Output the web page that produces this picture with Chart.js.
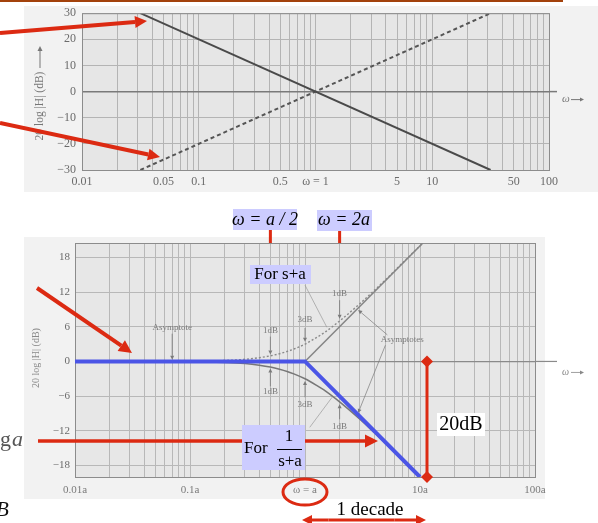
<!DOCTYPE html>
<html>
<head>
<meta charset="utf-8">
<script src="https://cdn.jsdelivr.net/npm/chart.js@4.4.1/dist/chart.umd.min.js"></script>
<style>
  body { margin: 0; background: #fff; width: 598px; height: 523px; overflow: hidden; position: relative; }
  canvas { position: absolute; left: 0; }
  #topChart { top: 0; }
  #bottomChart { top: 200px; }
</style>
</head>
<body>
<canvas id="topChart" width="598" height="200"></canvas>
<canvas id="bottomChart" width="598" height="323"></canvas>
<script>
// top plot: 20log|H| of 1/s (falling) and s (rising, dashed)
const topOmega = [0.0316, 31.6];
const topFalling = [30, -30];
const topRising = [-30, 30];
const topTickValues = [0.01, 0.05, 0.1, 0.5, 1, 5, 10, 50, 100];
const topTickLabels = ['0.01', '0.05', '0.1', '0.5', 'ω = 1', '5', '10', '50', '100'];
const topDbTicks = [-30, -20, -10, 0, 10, 20, 30];

// bottom plot: s+a and 1/(s+a), omega in units of a
const exactOmega = [0.01, 0.1, 0.2, 0.3, 0.4, 0.5, 0.6, 0.7, 0.8, 1, 1.25, 1.5, 2, 3, 4, 5, 7, 10.6];
const exactUpper = [0, 0.04, 0.17, 0.37, 0.65, 0.97, 1.34, 1.73, 2.15, 3.0, 4.1, 5.1, 7.0, 10.0, 12.3, 14.1, 17.0, 20.5];
const lowerOmega = [0.01, 0.1, 0.2, 0.3, 0.4, 0.5, 0.6, 0.7, 0.8, 1, 1.25, 1.5, 2, 3, 4, 5, 7, 10];
const exactLower = [0, -0.04, -0.17, -0.37, -0.65, -0.97, -1.34, -1.73, -2.15, -3.0, -4.1, -5.1, -7.0, -10.0, -12.3, -14.1, -17.0, -20.0];
const asymOmega = [1, 10.6];
const asymUpper = [0, 20.5];
const blueOmega = [0.01, 1, 10];
const blueDb = [0, 0, -20];
const bottomTickValues = [0.01, 0.1, 1, 10, 100];
const bottomTickLabels = ['0.01a', '0.1a', 'ω = a', '10a', '100a'];
const bottomDbTicks = [-18, -12, -6, 0, 6, 12, 18];

const RED = '#dc2a12';
const SERIF = "'Liberation Serif', 'DejaVu Serif', serif";

const pts = (xs, ys) => xs.map((x, i) => ({ x: x, y: ys[i] }));

function logGrid(lo, hi) {
    const out = [];
    for (let d = lo; d < hi * 0.99; d *= 10) {
        for (let m = 1; m < 10; m++) out.push(m * d);
    }
    out.push(hi);
    return out;
}

function labelFor(values, labels, v) {
    const i = values.findIndex(t => Math.abs(v - t) / t < 1e-6);
    return i >= 0 ? labels[i] : '';
}

function arrow(ctx, x1, y1, x2, y2, w, head, color) {
    const a = Math.atan2(y2 - y1, x2 - x1);
    const bx = x2 - head * Math.cos(a), by = y2 - head * Math.sin(a);
    const hw = head * 0.5;
    ctx.strokeStyle = color;
    ctx.fillStyle = color;
    ctx.lineWidth = w;
    ctx.beginPath();
    ctx.moveTo(x1, y1);
    ctx.lineTo(bx, by);
    ctx.stroke();
    ctx.beginPath();
    ctx.moveTo(x2, y2);
    ctx.lineTo(bx - hw * Math.sin(a), by + hw * Math.cos(a));
    ctx.lineTo(bx + hw * Math.sin(a), by - hw * Math.cos(a));
    ctx.closePath();
    ctx.fill();
}

function diamond(ctx, x, y, r) {
    ctx.beginPath();
    ctx.moveTo(x, y - r);
    ctx.lineTo(x + r, y);
    ctx.lineTo(x, y + r);
    ctx.lineTo(x - r, y);
    ctx.closePath();
    ctx.fill();
}

function box(ctx, x, y, w, h, fill) {
    ctx.fillStyle = fill;
    ctx.fillRect(x, y, w, h);
}

// ---------- top chart ----------
const topDecor = {
    id: 'topDecor',
    beforeDraw(chart) {
        const { ctx, chartArea: a } = chart;
        ctx.save();
        ctx.fillStyle = '#a3420c';
        ctx.fillRect(0, 0, 563, 2);
        ctx.fillStyle = '#f2f2f2';
        ctx.fillRect(24, 6, 574, 186);
        ctx.fillStyle = '#e6e6e6';
        ctx.fillRect(a.left, a.top, a.right - a.left, a.bottom - a.top);
        ctx.restore();
    },
    afterDraw(chart) {
        const { ctx, chartArea: a, scales } = chart;
        const y0 = scales.y.getPixelForValue(0);
        ctx.save();
        ctx.strokeStyle = '#8c8c8c';
        ctx.lineWidth = 1;
        ctx.strokeRect(a.left + 0.5, a.top + 0.5, a.right - a.left, a.bottom - a.top);
        ctx.strokeStyle = '#7a7a7a';
        ctx.lineWidth = 1.5;
        ctx.beginPath();
        ctx.moveTo(a.right, y0);
        ctx.lineTo(557, y0);
        ctx.stroke();
        ctx.fillStyle = '#777';
        ctx.font = 'italic 11px ' + SERIF;
        ctx.textBaseline = 'middle';
        ctx.fillText('ω', 562, y0 + 8);
        arrow(ctx, 571, y0 + 8, 584, y0 + 8, 1, 4, '#777');

        // y axis title
        ctx.save();
        ctx.translate(40, 106);
        ctx.rotate(-Math.PI / 2);
        ctx.fillStyle = '#777';
        ctx.font = '11.5px ' + SERIF;
        ctx.textAlign = 'center';
        ctx.textBaseline = 'middle';
        ctx.fillText('20 log |H| (dB)', 0, 0);
        ctx.restore();
        arrow(ctx, 40, 68, 40, 46, 1, 5, '#777');

        arrow(ctx, 0, 33, 147, 21, 4, 12, RED);
        arrow(ctx, 0, 123, 160, 157, 4, 12, RED);
        ctx.restore();
    }
};

new Chart(document.getElementById('topChart'), {
    type: 'line',
    data: {
        datasets: [{
            data: pts(topOmega, topFalling),
            borderColor: '#4a4a4a',
            borderWidth: 2,
            pointRadius: 0
        }, {
            data: pts(topOmega, topRising),
            borderColor: '#555',
            borderWidth: 2,
            borderDash: [4, 3],
            pointRadius: 0
        }]
    },
    options: {
        responsive: false,
        animation: false,
        devicePixelRatio: 1,
        layout: { padding: { top: 13, right: 49, left: 0, bottom: 0 } },
        plugins: { legend: { display: false }, tooltip: { enabled: false } },
        scales: {
            x: {
                type: 'logarithmic',
                min: 0.01,
                max: 100,
                afterBuildTicks: axis => { axis.ticks = logGrid(0.01, 100).map(v => ({ value: v })); },
                afterFit: axis => { axis.height = 30; },
                grid: { color: '#b4b4b4', lineWidth: 1, drawTicks: false },
                border: { display: false },
                ticks: {
                    autoSkip: false,
                    maxRotation: 0,
                    padding: 5,
                    color: '#6b6b6b',
                    font: { family: SERIF, size: 12 },
                    callback: v => labelFor(topTickValues, topTickLabels, v)
                }
            },
            y: {
                min: -30,
                max: 30,
                afterBuildTicks: axis => { axis.ticks = topDbTicks.map(v => ({ value: v })); },
                afterFit: axis => { axis.width = 82; },
                grid: {
                    color: c => c.tick && c.tick.value === 0 ? '#7a7a7a' : '#b4b4b4',
                    lineWidth: c => c.tick && c.tick.value === 0 ? 1.5 : 1,
                    drawTicks: false
                },
                border: { display: false },
                ticks: {
                    padding: 6,
                    color: '#6b6b6b',
                    font: { family: SERIF, size: 12 },
                    callback: v => v < 0 ? '\u2212' + Math.abs(v) : String(v)
                }
            }
        }
    },
    plugins: [topDecor]
});

// ---------- bottom chart ----------
const OY = 200; // canvas top on the page

const bottomDecor = {
    id: 'bottomDecor',
    beforeDraw(chart) {
        const { ctx, chartArea: a } = chart;
        ctx.save();
        ctx.fillStyle = '#f2f2f2';
        ctx.fillRect(24, 237 - OY, 521, 262);
        ctx.fillStyle = '#e7e7e7';
        ctx.fillRect(a.left, a.top, a.right - a.left, a.bottom - a.top);
        ctx.restore();
    },
    beforeDatasetsDraw(chart) {
        const { ctx, chartArea: a, scales } = chart;
        const X = w => scales.x.getPixelForValue(w);
        const Y = d => scales.y.getPixelForValue(d);
        ctx.save();
        ctx.strokeStyle = '#8c8c8c';
        ctx.lineWidth = 1;
        ctx.strokeRect(a.left + 0.5, a.top + 0.5, a.right - a.left, a.bottom - a.top);
        ctx.strokeStyle = '#8a8a8a';
        ctx.lineWidth = 1.2;
        ctx.beginPath();
        ctx.moveTo(a.right, Y(0));
        ctx.lineTo(557, Y(0));
        ctx.stroke();

        // small scan notes
        const grey = '#7a7a7a';
        ctx.fillStyle = grey;
        ctx.font = '9px ' + SERIF;
        ctx.textAlign = 'center';
        ctx.textBaseline = 'middle';
        const note = (t, w, d) => ctx.fillText(t, X(w), Y(d));
        note('Asymptote', 0.07, 5.8);
        arrow(ctx, X(0.07), Y(4.8), X(0.07), Y(0.3), 0.8, 4, grey);
        note('1dB', 0.5, 5.3);
        arrow(ctx, X(0.5), Y(4.3), X(0.5), Y(1.2), 0.8, 4, grey);
        note('3dB', 1, 7.3);
        arrow(ctx, X(1), Y(5.8), X(1), Y(3.4), 0.8, 4, grey);
        note('1dB', 2, 11.8);
        arrow(ctx, X(2), Y(10.6), X(2), Y(7.4), 0.8, 4, grey);
        note('1dB', 0.5, -5.3);
        arrow(ctx, X(0.5), Y(-4.3), X(0.5), Y(-1.2), 0.8, 4, grey);
        note('3dB', 1, -7.5);
        arrow(ctx, X(1), Y(-6.2), X(1), Y(-3.4), 0.8, 4, grey);
        note('1dB', 2, -11.2);
        arrow(ctx, X(2), Y(-10), X(2), Y(-7.4), 0.8, 4, grey);
        note('Asymptotes', 7, 3.7);
        arrow(ctx, X(5.2), Y(4.6), X(2.9), Y(8.9), 0.7, 4, grey);
        arrow(ctx, X(5.0), Y(2.8), X(2.9), Y(-8.9), 0.7, 4, grey);
        ctx.strokeStyle = '#999';
        ctx.lineWidth = 0.7;
        ctx.beginPath();
        ctx.moveTo(X(1), Y(13.2));
        ctx.lineTo(X(1.55), Y(5.9));
        ctx.moveTo(X(1.1), Y(-11.4));
        ctx.lineTo(X(1.72), Y(-6.2));
        ctx.stroke();

        // y axis title
        ctx.save();
        ctx.translate(36, 358 - OY);
        ctx.rotate(-Math.PI / 2);
        ctx.fillStyle = '#888';
        ctx.font = '10px ' + SERIF;
        ctx.textAlign = 'center';
        ctx.fillText('20 log |H| (dB)', 0, 0);
        ctx.restore();

        ctx.fillStyle = '#888';
        ctx.font = 'italic 10px ' + SERIF;
        ctx.textAlign = 'left';
        ctx.fillText('ω', 562, Y(0) + 11);
        arrow(ctx, 571, Y(0) + 11, 584, Y(0) + 11, 0.8, 4, '#888');
        ctx.restore();
    },
    afterDraw(chart) {
        const { ctx, chartArea: a, scales } = chart;
        const X = w => scales.x.getPixelForValue(w);
        const Y = d => scales.y.getPixelForValue(d);
        ctx.save();

        // left slide remnants
        ctx.fillStyle = '#555';
        ctx.font = '22px ' + SERIF;
        ctx.textBaseline = 'alphabetic';
        ctx.textAlign = 'left';
        ctx.fillText('g', 0, 446 - OY);
        ctx.font = 'italic 22px ' + SERIF;
        ctx.fillText('a', 12, 446 - OY);
        ctx.fillStyle = '#111';
        ctx.font = 'italic 21px ' + SERIF;
        ctx.fillText('B', -4, 516 - OY);

        // red ticks for a/2 and 2a
        ctx.strokeStyle = RED;
        ctx.lineWidth = 3;
        ctx.beginPath();
        ctx.moveTo(X(0.5), 230 - OY);
        ctx.lineTo(X(0.5), a.top);
        ctx.moveTo(X(2), 230 - OY);
        ctx.lineTo(X(2), a.top);
        ctx.stroke();

        // red arrows
        arrow(ctx, 37, 288 - OY, 132, 353 - OY, 4, 13, RED);
        arrow(ctx, 38, 441 - OY, 378, 441 - OY, 3.5, 13, RED);

        // 20 dB marker
        const xm = X(10) + 7;
        ctx.strokeStyle = RED;
        ctx.fillStyle = RED;
        ctx.lineWidth = 3;
        ctx.beginPath();
        ctx.moveTo(xm, Y(0));
        ctx.lineTo(xm, Y(-20));
        ctx.stroke();
        diamond(ctx, xm, Y(0), 6);
        diamond(ctx, xm, Y(-20), 6);

        // circle around w = a
        ctx.beginPath();
        ctx.ellipse(X(1), 492 - OY, 22, 13, 0, 0, Math.PI * 2);
        ctx.stroke();

        // 1 decade
        const yd = 520 - OY;
        arrow(ctx, X(1.6), yd, X(1) - 3, yd, 3, 10, RED);
        arrow(ctx, X(6), yd, X(10) + 6, yd, 3, 10, RED);
        ctx.beginPath();
        ctx.moveTo(X(1.6), yd);
        ctx.lineTo(X(6), yd);
        ctx.stroke();
        ctx.fillStyle = '#000';
        ctx.font = '19px ' + SERIF;
        ctx.textAlign = 'center';
        ctx.textBaseline = 'middle';
        ctx.fillText('1 decade', 370, 510 - OY);

        // label boxes
        const lav = '#ccccff';
        box(ctx, 233, 209 - OY, 64, 21, lav);
        box(ctx, 317, 210 - OY, 55, 21, lav);
        box(ctx, 250, 265 - OY, 61, 19, lav);
        box(ctx, 242, 425 - OY, 63, 45, lav);
        box(ctx, 437, 413 - OY, 48, 23, '#fff');

        ctx.fillStyle = '#000';
        ctx.font = 'italic 18px ' + SERIF;
        ctx.fillText('ω = a / 2', 265, 220 - OY);
        ctx.fillText('ω = 2a', 344, 220 - OY);
        ctx.font = '17px ' + SERIF;
        ctx.fillText('For s+a', 280, 275 - OY);
        ctx.textAlign = 'left';
        ctx.fillText('For', 244, 449 - OY);
        ctx.textAlign = 'center';
        ctx.fillText('1', 289, 437 - OY);
        ctx.fillText('s+a', 290, 462 - OY);
        ctx.strokeStyle = '#000';
        ctx.lineWidth = 1;
        ctx.beginPath();
        ctx.moveTo(277, 449.5 - OY);
        ctx.lineTo(302, 449.5 - OY);
        ctx.stroke();
        ctx.font = '20px ' + SERIF;
        ctx.fillText('20dB', 461, 425 - OY);
        ctx.restore();
    }
};

new Chart(document.getElementById('bottomChart'), {
    type: 'line',
    data: {
        datasets: [{
            data: pts(blueOmega, blueDb),
            borderColor: '#4b55e6',
            borderWidth: 4,
            pointRadius: 0
        }, {
            data: pts(asymOmega, asymUpper),
            borderColor: '#858585',
            borderWidth: 1.5,
            pointRadius: 0
        }, {
            data: pts(exactOmega, exactUpper),
            borderColor: '#8a8a8a',
            borderWidth: 1.4,
            borderDash: [2, 2],
            pointRadius: 0,
            cubicInterpolationMode: 'monotone'
        }, {
            data: pts(lowerOmega, exactLower),
            borderColor: '#777',
            borderWidth: 1.5,
            pointRadius: 0,
            cubicInterpolationMode: 'monotone'
        }]
    },
    options: {
        responsive: false,
        animation: false,
        devicePixelRatio: 1,
        layout: { padding: { top: 43, right: 63, left: 0, bottom: 0 } },
        plugins: { legend: { display: false }, tooltip: { enabled: false } },
        scales: {
            x: {
                type: 'logarithmic',
                min: 0.01,
                max: 100,
                afterBuildTicks: axis => { axis.ticks = logGrid(0.01, 100).map(v => ({ value: v })); },
                afterFit: axis => { axis.height = 46; },
                grid: { color: '#b8b8b8', lineWidth: 1, drawTicks: false },
                border: { display: false },
                ticks: {
                    autoSkip: false,
                    maxRotation: 0,
                    padding: 7,
                    color: '#7a7a7a',
                    font: { family: SERIF, size: 11 },
                    callback: v => labelFor(bottomTickValues, bottomTickLabels, v)
                }
            },
            y: {
                min: -20,
                max: 20.5,
                afterBuildTicks: axis => { axis.ticks = bottomDbTicks.map(v => ({ value: v })); },
                afterFit: axis => { axis.width = 75; },
                grid: {
                    color: c => c.tick && c.tick.value === 0 ? '#8a8a8a' : '#b8b8b8',
                    lineWidth: c => c.tick && c.tick.value === 0 ? 1.3 : 1,
                    drawTicks: false
                },
                border: { display: false },
                ticks: {
                    padding: 5,
                    color: '#6b6b6b',
                    font: { family: SERIF, size: 11 },
                    callback: v => v < 0 ? '\u2212' + Math.abs(v) : String(v)
                }
            }
        }
    },
    plugins: [bottomDecor]
});
</script>
</body>
</html>
